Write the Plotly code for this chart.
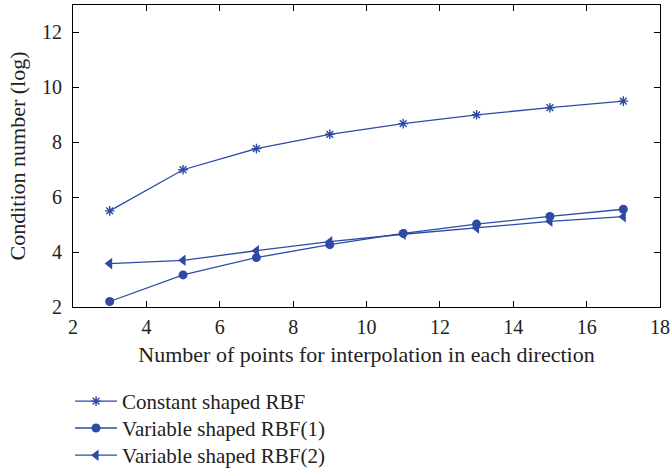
import plotly.graph_objects as go

x_points = [3, 5, 7, 9, 11, 13, 15, 17]
constant_rbf = [5.5, 7.0, 7.77, 8.29, 8.68, 9.0, 9.26, 9.5]
variable_rbf1 = [2.2, 3.17, 3.8, 4.27, 4.68, 5.02, 5.3, 5.56]
variable_rbf2 = [3.58, 3.7, 4.05, 4.38, 4.65, 4.88, 5.12, 5.29]
names = ["Constant shaped RBF", "Variable shaped RBF(1)", "Variable shaped RBF(2)"]

color = "rgb(45,75,165)"
font_family = "Liberation Serif"
tick_size = 20
title_size = 22
legend_size = 21

fig = go.Figure()
fig.add_trace(go.Scatter(x=x_points, y=constant_rbf, name=names[0], mode="lines+markers",
                         legend="legend",
                         line=dict(color=color, width=1.3),
                         marker=dict(symbol="asterisk-open", size=8, color=color, line=dict(color=color, width=1.4))))
fig.add_trace(go.Scatter(x=x_points, y=variable_rbf1, name=names[1], mode="lines+markers",
                         legend="legend2",
                         line=dict(color=color, width=1.3),
                         marker=dict(symbol="circle", size=9, color=color)))
fig.add_trace(go.Scatter(x=x_points, y=variable_rbf2, name=names[2], mode="lines+markers",
                         legend="legend3",
                         line=dict(color=color, width=1.3),
                         marker=dict(symbol="triangle-left", size=10, color=color)))

axis_common = dict(showline=True, linecolor="black", linewidth=1, mirror="ticks",
                   ticks="inside", ticklen=6, tickcolor="black", showgrid=False, zeroline=False,
                   automargin=False,
                   tickfont=dict(family=font_family, size=tick_size, color="#222"))


def legend_at(ypos):
    return dict(x=-0.005, y=ypos, xanchor="left", yanchor="top",
                font=dict(family=font_family, size=legend_size, color="#222"),
                itemwidth=42, bgcolor="rgba(0,0,0,0)")


fig.update_layout(
    width=671, height=470,
    margin=dict(l=73, r=11, t=5, b=163, autoexpand=False),
    plot_bgcolor="white", paper_bgcolor="white",
    font=dict(family=font_family, size=title_size, color="#222"),
    xaxis=dict(range=[2, 18], dtick=2, ticklabelstandoff=2,
               title=dict(text="Number of points for interpolation in each direction", standoff=9,
                          font=dict(size=title_size)),
               **axis_common),
    yaxis=dict(range=[2, 13], tickvals=[2, 4, 6, 8, 10, 12], ticklabelstandoff=6,
               title=dict(text="Condition number (log)", standoff=10, font=dict(size=title_size)),
               **axis_common),
    legend=legend_at(-0.245),
    legend2=legend_at(-0.334),
    legend3=legend_at(-0.424),
    showlegend=True,
)

fig.write_html("out.html")
